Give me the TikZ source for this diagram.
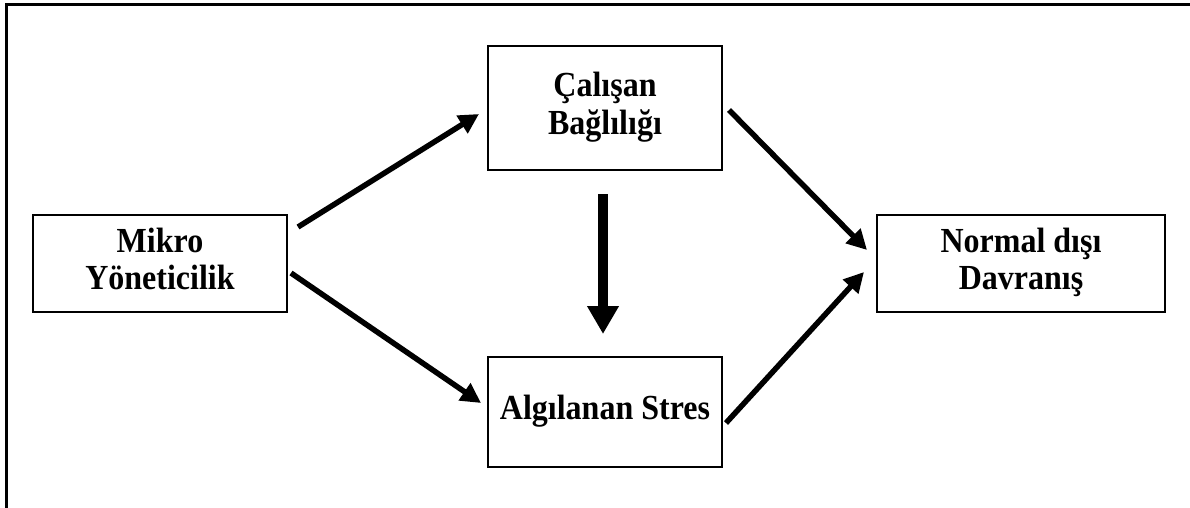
\documentclass[tikz,border=0pt]{standalone}
\usepackage{fontspec}
\setmainfont{Liberation Serif}
\usepackage{graphicx}
\usepackage{tikz}
\usetikzlibrary{arrows.meta, calc}

% slightly taller lettering, as in the scanned original
\newcommand{\talltext}[1]{\scalebox{1}[1.1]{\begin{tabular}{@{}c@{}}#1\end{tabular}}}

\begin{document}
\begin{tikzpicture}[
    x=1pt, y=-1pt,
    block/.style={draw, line width=2pt, align=center, inner sep=0pt,
                  font=\bfseries\fontsize{32}{34}\selectfont},
    arr/.style={-{Triangle[length=20pt, width=20pt]}, line width=5.5pt},
    bigarr/.style={-{Triangle[length=28pt, width=30pt]}, line width=10pt}
  ]
    \useasboundingbox (0,0) rectangle (1190,508);
    % frame (top and left only)
    \draw[line width=2.8pt] (6.3,508) -- (6.3,4.7) -- (1190,4.7);
    \node[block, minimum width=254pt, minimum height=97pt] (mikro) at (160,263.5)
      {\talltext{Mikro\\Yöneticilik}};
    \node[block, minimum width=234pt, minimum height=124pt] (calisan) at (605,108)
      {\talltext{Çalışan\\Bağlılığı}};
    \node[block, minimum width=234pt, minimum height=110pt] (stres) at (605,412)
      {\talltext{Algılanan Stres}};
    \node[block, minimum width=288pt, minimum height=97pt] (davranis) at (1021,263.5)
      {\talltext{Normal dışı\\Davranış}};
    \draw[arr] ($(mikro.north east)+(10,13)$) -- ($(calisan.west)+(-8,6)$);
    \draw[arr] ($(mikro.east)+(3,9.5)$) -- ($(stres.west)+(-6,-9)$);
    \draw[bigarr] ($(calisan.south)+(-2,23)$) -- ($(stres.north)+(-2,-22)$);
    \draw[arr] ($(calisan.east)+(6,2)$) -- ($(davranis.west)+(-9,-13.5)$);
    \draw[arr] ($(stres.east)+(3,11)$) -- ($(davranis.west)+(-12,8.5)$);
  \end{tikzpicture}
\end{document}
